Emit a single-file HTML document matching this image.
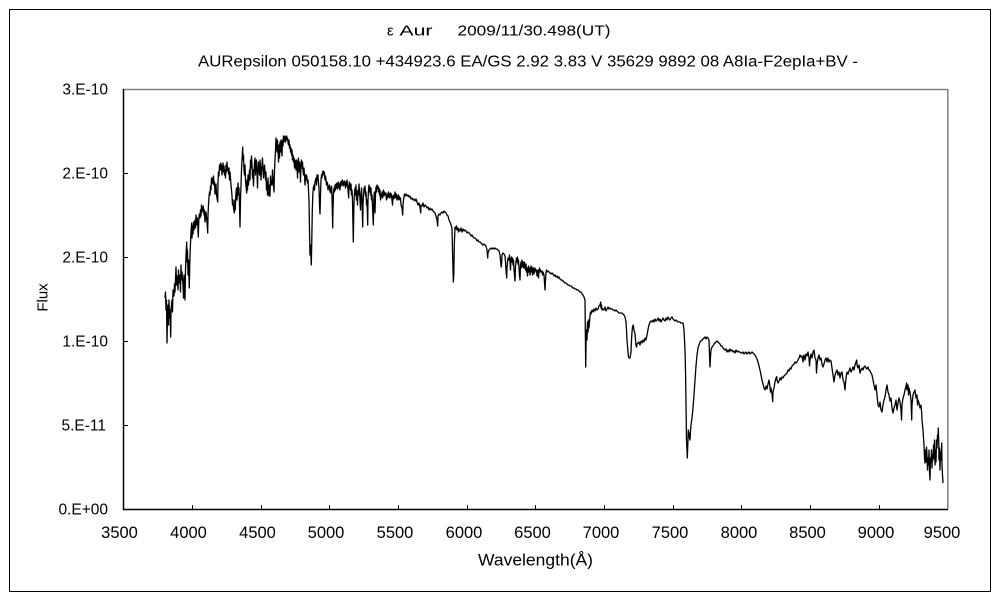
<!DOCTYPE html>
<html><head><meta charset="utf-8"><style>
html,body{margin:0;padding:0;background:#fff;}
svg{display:block;}
text{font-family:"Liberation Sans","Noto Sans CJK JP",sans-serif;fill:#000;}
</style></head><body>
<svg width="1000" height="600" viewBox="0 0 1000 600" xmlns="http://www.w3.org/2000/svg">
<rect x="0" y="0" width="1000" height="600" fill="#fff"/>
<rect x="9.5" y="9.5" width="981" height="582" fill="none" stroke="#000" stroke-width="1"/>
<!-- titles -->
<text x="387" y="35.5" font-size="15">ε</text>
<text x="399.5" y="35.5" font-size="15" textLength="33" lengthAdjust="spacingAndGlyphs">Aur</text>
<text x="457.5" y="35.5" font-size="15" textLength="153" lengthAdjust="spacingAndGlyphs">2009/11/30.498(UT)</text>
<text x="198" y="66.5" font-size="15.5" textLength="660" lengthAdjust="spacingAndGlyphs">AURepsilon 050158.10 +434923.6 EA/GS 2.92 3.83 V 35629 9892 08 A8Ia-F2epIa+BV -</text>
<!-- plot frame -->
<line x1="123" y1="89.5" x2="948" y2="89.5" stroke="#808080" stroke-width="1.5"/>
<line x1="947.8" y1="89" x2="947.8" y2="509" stroke="#808080" stroke-width="1.5"/>
<line x1="123.5" y1="89" x2="123.5" y2="510" stroke="#000" stroke-width="1.5"/>
<line x1="123" y1="509.5" x2="948" y2="509.5" stroke="#000" stroke-width="1.5"/>
<!-- y ticks -->
<g stroke="#000" stroke-width="1">
<line x1="123" y1="173.5" x2="128" y2="173.5"/>
<line x1="123" y1="257.5" x2="128" y2="257.5"/>
<line x1="123" y1="341.5" x2="128" y2="341.5"/>
<line x1="123" y1="425.5" x2="128" y2="425.5"/>
</g>
<!-- x ticks -->
<g stroke="#000" stroke-width="1">
<line x1="192.5" y1="509" x2="192.5" y2="505"/>
<line x1="261.5" y1="509" x2="261.5" y2="505"/>
<line x1="329.5" y1="509" x2="329.5" y2="505"/>
<line x1="398.5" y1="509" x2="398.5" y2="505"/>
<line x1="467.5" y1="509" x2="467.5" y2="505"/>
<line x1="535.5" y1="509" x2="535.5" y2="505"/>
<line x1="604.5" y1="509" x2="604.5" y2="505"/>
<line x1="673.5" y1="509" x2="673.5" y2="505"/>
<line x1="741.5" y1="509" x2="741.5" y2="505"/>
<line x1="810.5" y1="509" x2="810.5" y2="505"/>
<line x1="879.5" y1="509" x2="879.5" y2="505"/>
</g>
<!-- y labels -->
<g font-size="15.5" text-anchor="end">
<text x="108" y="94.5">3.E-10</text>
<text x="108" y="178.5">2.E-10</text>
<text x="108" y="262.5">2.E-10</text>
<text x="108" y="346.5">1.E-10</text>
<text x="106" y="430.5">5.E-11</text>
<text x="108" y="514.5">0.E+00</text>
</g>
<!-- x labels -->
<g font-size="16.5" text-anchor="middle">
<text x="119.5" y="538">3500</text>
<text x="188.5" y="538">4000</text>
<text x="257.5" y="538">4500</text>
<text x="326" y="538">5000</text>
<text x="395" y="538">5500</text>
<text x="464" y="538">6000</text>
<text x="532.5" y="538">6500</text>
<text x="601" y="538">7000</text>
<text x="670" y="538">7500</text>
<text x="739" y="538">8000</text>
<text x="807.5" y="538">8500</text>
<text x="876" y="538">9000</text>
<text x="942" y="538">9500</text>
</g>
<!-- axis titles -->
<text x="0" y="0" font-size="15" text-anchor="middle" transform="translate(47.5,297.5) rotate(-90)">Flux</text>
<text x="478" y="565.5" font-size="16.5" textLength="115" lengthAdjust="spacingAndGlyphs">Wavelength(Å)</text>
<!-- spectrum -->
<polyline fill="none" stroke="#000" stroke-width="1.3" stroke-linejoin="round" points="
165,298 165.5,292 166,310 166.5,300 167,343 167.5,315 168,305 168.5,325 169,300 169.5,318 170,310 170.7,337 171,310 172,300 172.5,312 173,290 174,296 174.5,284 175,292 176,267 176.5,285 177,276 178,290 178.5,270 179,283 180,275 180.5,292 181,265 181.5,280 182,272 183,285 183.5,298 184,275 184.5,290 185,300 185.5,270 186,255 186.7,242 187,262 187.5,250 188,275 188.5,260 189.3,288 189.8,262 190.3,248 191,232 191.7,223 192,238 192.5,226 193,234 193.5,222 194,230 195,220 195.5,228 196,215 197,225 197.5,218 198.3,237 198.8,220 199.3,214 200,218 200.5,210 201,216 201.5,205 202,212 203.3,206 204,215 204.5,210 205,222 205.5,218 206,212 207,222 207.7,233 208,215 208.5,205 209,197 209.5,192 210,195 210.5,186 211,190 211.5,178 212,183 212.7,178 213,184 213.5,176 214,185 214.5,182 215,194 215.5,190 216,184 216.5,195 217.7,202 218,182 218.5,172 219,176 219.5,165 220,170 220.7,163 221,170 221.5,165 222,175 222.5,168 223,163 223.5,172 224,166 224.5,175 225,170 225.5,178 226,165 226.5,172 227,162 227.5,170 228,168 228.5,174 229,168 229.5,180 230,172 230.5,178 231,185 231.5,190 232,196 232.5,205 233,200 233.5,208 234.3,213 234.8,200 235.3,210 235.8,195 236.5,188 237,200 237.5,192 238,183 238.5,195 239,188 239.5,205 240,227 240.5,200 241,185 241.5,170 242,160 242.7,147 243,160 243.5,155 244,170 244.5,175 245,165 245.5,180 246,186 246.7,193 247,180 247.5,190 248,175 248.5,185 249,178 249.5,170 250,180 250.5,160 251,168 251.5,156 252,165 252.5,178 253,170 253.5,186 254,172 254.5,163 255,158 255.5,175 256,165 256.5,160 257,172 257.5,188 258,170 258.5,162 259,168 259.5,175 260,160 260.5,168 261,180 261.5,170 262,165 262.5,158 263,170 263.5,178 264,170 264.5,165 265,172 265.5,180 266,172 266.5,190 267,182 267.5,195 268,178 268.5,192 269,196 269.5,185 270,196 270.5,176 271,185 272,185 272.5,170 273,180 274,192 274.5,170 275,160 275.5,150 276,138 276.5,145 277,152 277.5,140 278,150 278.5,162 279,145 279.5,158 280,142 280.5,152 281,140 281.5,148 282,156 282.5,140 283,146 283.5,136 284,142 284.5,140 285,136 285.5,142 286,138 286.7,136 287,140 287.5,138 288,142 288.5,145 289,140 289.5,148 290,145 290.5,152 291,148 291.5,155 292,150 292.5,160 293,155 293.5,162 294,158 294.5,168 295,160 295.5,163 296,170 296.5,160 297,165 297.5,178 298,162 298.5,158 299,172 299.5,162 300,165 300.5,182 301,165 301.5,160 302,168 302.5,162 303,170 303.5,175 304,168 304.5,175 305,185 305.5,175 306,180 306.5,175 307,178 307.5,183 308,180 308.5,190 309,200 309.5,230 310,255 310.5,245 311.3,265 311.8,240 312.3,210 312.8,195 313.3,188 314,185 314.5,190 315,182 316,178 316.5,185 317,175 317.5,180 318,175 318.5,183 319,188 319.5,205 320,214 320.5,195 321,180 321.5,175 322,178 322.5,172 323.3,171 323.8,175 324.3,172 325,180 325.5,176 326,180 326.5,185 327,182 327.5,183 328,190 328.5,186 329,188 329.5,185 330,192 330.5,188 331,193 331.5,186 332,195 332.7,228 333,210 333.5,192 334,188 334.5,192 335,185 335.5,190 336,184 336.5,188 337,183 337.5,189 338,185 338.5,182 339,188 339.5,184 340,190 340.5,182 341,186 341.5,181 342,184 342.5,180 343,186 343.5,182 344,185 344.5,181 345,183 345.5,188 346,182 346.5,186 347,180 347.5,184 348,190 348.7,198 349,186 349.5,182 350,185
350.5,190 351,184 351.5,195 352,190 352.5,200 353.3,242 353.8,210 354.3,195 355,188 355.5,195 356,185 356.5,200 357,192 357.5,205 358,190 358.5,195 359,184 359.5,192 360,200 360.5,210 361,195 361.5,188 362,200 362.7,227 363,205 363.5,195 364,188 364.5,192 365,186 365.5,196 366,192 366.5,205 367,200 367.7,225 368,200 368.5,190 369,185 369.5,192 370,187 370.5,195 371,188 371.5,200 372,195 373.3,225 373.8,200 374.3,192 375,213 375.5,195 376,187 376.5,192 377,185 377.5,188 378,186 378.5,192 379,188 379.5,195 380,190 380.5,200 381,195 381.5,197 382,192 382.5,198 383,193 383.5,190 384,196 384.5,192 385,195 386,193 386.5,200 387,195 387.5,198 388,194 388.5,192 389,197 389.5,194 390,198 390.5,193 391,197 391.5,194 392,200 392.5,205 393,196 393.5,199 394,195 394.5,198 395,192 396,198 396.5,194 397,200 397.5,196 398,199 398.5,195 399,200 399.5,197 400,199 400.5,198 401,205 402,208 402.7,215 403,205 403.5,200 404,197 404.5,194 405,196 406,194 407,196 408,195 409,197 410,196 411,199 412,198 413,200 414,199 415,201 416,199 417,202 418,205 419,203 420,207 420.7,213 421,205 422,206 423,203 424,207 425,205 426,206 427,208 428,207 429,210 430,208 431,210 432,209 433,211 434,212 435,213 436,216 437,220 437.7,226 438,216 439,214 440,215 441,213 442,212 443,213 444,211 445,212 446,213 447,215 448,216 449,220 450,222 451,225 452,228 452.5,250 453,270 453.3,282 453.8,275 454.3,245 455,227 456,229 456.5,226 457,230 458,228 458.5,232 459,229 460,231 461,228 462,232 463,229 464,231 465,230 466,231 467,233 468,232 469,233 470,234 471,236 472,235 473,237 474,238 475,238 476,239 477,241 478,240 479,242 480,242 481,243 482,244 483,245 484,244 485,245 486,246 487,250 487.7,258 488,253 489,250 490,249 491,248 492,249 493,248 494,249 495,248 496,249 497,249 498,250 499,251 500,255 500.7,262 501.2,267 501.7,262 502,255 503,253 504,254 505,256 505.5,262 506,270 506.7,278 507,268 507.5,262 508,258 509,260 509.5,255 510,262 510.5,270 511,259 511.5,257 512,262 512.5,258 513,265 513.5,260 514,270 515,281 515.5,266 516,262 516.5,258 517,262 517.5,257 518,264 518.5,260 519,268 519.5,275 520,280 520.5,265 521,262 521.5,268 522,260 522.5,266 523,262 523.5,268 524,265 524.5,262 525,268 525.5,270 526,264 526.5,272 527,268 527.5,276 528,270 528.5,266 529,272 529.5,268 530,275 530.5,270 531,266 531.5,272 532,267 532.5,275 533,270 533.5,268 534,274 534.5,270 535,268 536,272 536.5,270 537,276 537.5,273 538,270 538.5,278 539,272 539.5,268 540,272 540.5,270 541,272 542,271 542.5,275 543,272 544,275 545,290 545.5,280 546,272 546.5,270 547,272 548,271 549,272 550,273 551,274 552,273 553,274 554,276 555,275 556,277 557,276 558,278 559,277 560,279 561,280 562,280 563,281 564,282 565,283 566,283 567,284 568,285 569,285 570,286 571,286 572,287 573,288 574,288 575,289 576,289 577,290 578,290 579,291 580,292 581,292 582,294 583,295 584,297 585,300 585.7,367 586.3,330 587,340 587.5,322 588,332 588.5,320 589,328 590,316 590.5,312 591,314 592,310 593,312 594,309 595,311 596,308 597,310 598,309 599,306 600,305 600.7,302 601,308 601.5,305 602,310 603,309 604,310 605,307 606,311 607,309 608,307 609,309 610,308 611,309 612,309 613,310 614,310 615,311 616,310 617,311 618,312 619,313 620,313 621,313 622,313 623,314 624,315 625,317 626,322 626.5,330 627,340 628,352 628.5,357 629,358 630,358 631,352 631.5,340 632,332 632.5,327 633.3,325 634,330 635,334 635.5,340 636,346 636.7,347 637,344 638,343 639,342 640,345 641,341 642,343 643,340 644,342 645,338 646,340 647,335 648.3,328 649,325 650,322 651,321 652,322 653,320 654,322 655,319 656,321 657,320 658,318 659,321 660,319 661,322 662,320 663,318 664,320 665,321 666,318 667,320 668,317 669,319 670,320 671,318 672,317 673,319 674,320 675,321 676,320 677,321 678,322 679,322 680,322 681,323 682,323 683,323 683.5,326 684,330 685,350 685.5,370 686,403 686.5,440 687,450 687.3,458 687.8,445 688.3,430 689,433 689.5,438 690,440 690.5,432 691,425 692,418 693,408 694,395 695,380 696,366 697,355 698,348 699,345 700,342 701,341 702,340 703,339 704,338 705,337 706,339 707,337 708,338 709,340 709.5,355 710,367 710.5,357 711,350 712,347 713,346 714,344 715,343 716,342 717,341 718,342 719,343 720,344 721,346 722,346 723,348 724,349 725,350 726,349 727,352 728,350 729,352 730,349 731,351 732,350 733,352 734,351 735,353 736,350 737,352 738,351 739,352 740,352 741,353 742,353 743,352 744,354 745,353 746,352 747,354 748,353 749,352 750,354 751,353 752,352 753,353 754,354 755,355 756,357 757,359 758,362 759,366 760,370 761,375 762,380 763,384 764,388 765,390 766,386 767,389 768,384 769,380 770,387 770.5,392 771,388 772,394 772.7,401.7 773,392 774,388 775,382 776,378 776.7,376.7 777,380 778,383 779,381 780,378 781,380 782,377 783,378 784,376 785,375 786,374 787,373 788,370 789,371 790,368 791,369 792,366 793,365 794,364 795,362 796,363 797,362 798,360 799,358 800,355 801,357 802,356 803,362 803.5,357 804,355 805,360 806,354 807,356 808,352 809,358 809.5,366 810,360 811,354 812,358 813,352 814,350 815,358 816,360 816.5,373 817,365 818,358 819,355 820,360 821,358 822,364 823,367 824,364 825,360 826,358 827,362 828,358 829,362 830,360 831,361 832,368 833,375 834,382 835,375 836,372 837,370 838,375 839,372 840,378 841,373 842,372 843,380 844,382 845,390 846,378 847,372 848,374 849,371 850,368 851,372 852,370 853,367 854,370 855,365 856,362 856.7,360 857,365 858,368 859,365 860,373 861,370 862,368 863,370 864,367 865,366 866,368 867,369 868,367 869,370 870,371 871,373 872,375 873,380 874,385 875,390 876,385 877,395 878,405 879,407 880,402 881,410 882,412 883,405 884,400 885,397 886,390 887,385 888,392 889,395 890,401 891,398 892,408 893,413 894,408 895,405 896,400 897,410 898,403 899,398 900,402 901,410 901.5,420 902,405 903,398 904,395 905,390 906,386 906.7,383 907,390 908,385 908.5,395 909,388 910,392 911,400 911.7,420 912,405 913,395 914,392 915,390 916,398 917,395 917.5,405 918,400 919,403 920,408 921,405 921.7,413 922,420 923,430 923.3,435 924,445 924.5,458 925,463 925.5,450 926,462 926.5,447 927,455 927.5,470 928,458 928.5,465 929,450 929.5,472 930,480 930.5,458 931,462 931.5,450 932,468 932.5,455 933,460 933.5,445 934,458 934.5,440 935,465 935.5,450 936,462 936.5,440 937,448 937.5,435 938,438 938.3,428 938.8,445 939,460 939.5,448 940,470 940.5,452 941,460 941.7,443 942,465 942.5,475 943,483"/>
</svg>
</body></html>
